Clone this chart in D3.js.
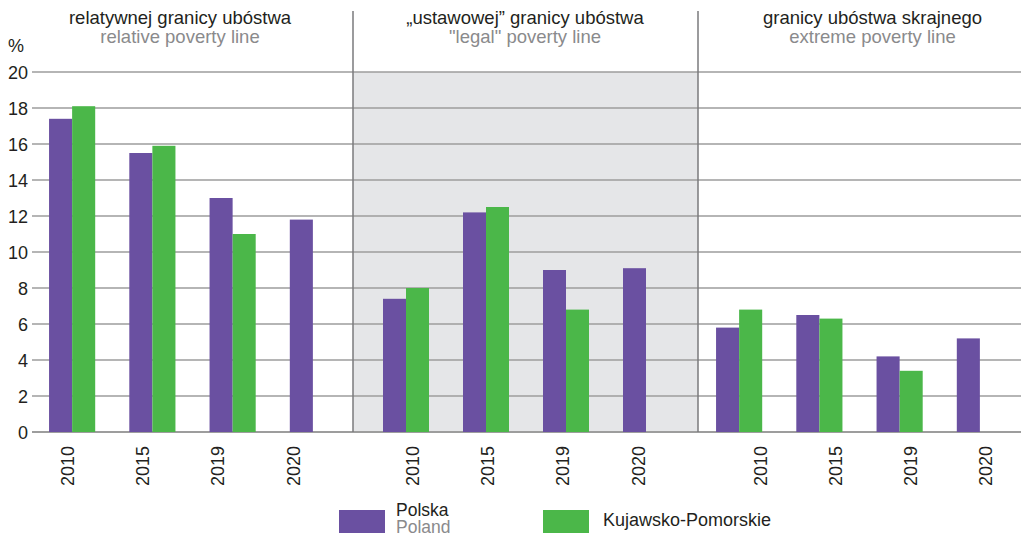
<!DOCTYPE html>
<meta charset="utf-8">
<head>
  <title>Poverty lines</title>
</head>

<style>
body {
  margin: 0;
  font-family: "Liberation Sans", Arial, Helvetica, sans-serif;
  color: #231f20;
  background: #fff;
}
</style>

<body>
  <div id="content">
    <svg width="1021" height="537"></svg>
  </div>

  <script src="https://cdnjs.cloudflare.com/ajax/libs/d3/7.8.5/d3.min.js"></script>

  <script>
// DATA
var years = ['2010', '2015', '2019', '2020'];
var panelTitlesPl = ['relatywnej granicy ubóstwa', '\u201eustawowej\u201d granicy ubóstwa', 'granicy ubóstwa skrajnego'];
var panelTitlesEn = ['relative poverty line', '"legal" poverty line', 'extreme poverty line'];
var polska = [
  [17.4, 15.5, 13.0, 11.8],
  [7.4, 12.2, 9.0, 9.1],
  [5.8, 6.5, 4.2, 5.2]
];
var kujawsko = [
  [18.1, 15.9, 11.0, null],
  [8.0, 12.5, 6.8, null],
  [6.8, 6.3, 3.4, null]
];
var seriesNames = ['Polska', 'Kujawsko-Pomorskie'];
var seriesNamesEn = ['Poland', null];
var yTicks = [0, 2, 4, 6, 8, 10, 12, 14, 16, 18, 20];

var colors = ['#6a50a1', '#4bb749'];

var svg = d3.select('svg');

var y = d3.scaleLinear().domain([0, 20]).range([432, 72]);

var plotLeft = 32, plotRight = 1021;
var panelEdges = [32, 353, 698, 1021];
var barRanges = [[32, 353], [366, 686], [699, 1020]];
var labelRanges = [[67, 293], [412, 638], [760, 985]];

// middle panel shading
svg.append('rect')
  .attr('x', panelEdges[1])
  .attr('y', y(20))
  .attr('width', panelEdges[2] - panelEdges[1])
  .attr('height', y(0) - y(20))
  .attr('fill', '#e5e6e8');

// gridlines
svg.selectAll('.grid')
  .data(yTicks)
  .enter().append('line')
  .attr('x1', plotLeft)
  .attr('x2', plotRight)
  .attr('y1', function(d) { return y(d); })
  .attr('y2', function(d) { return y(d); })
  .attr('stroke', '#9d9d9d')
  .attr('stroke-width', function(d) { return d === 0 ? 2 : 1.5; });

// y tick labels
svg.selectAll('.ylab')
  .data(yTicks)
  .enter().append('text')
  .attr('x', 28)
  .attr('y', function(d) { return y(d) + 6.5; })
  .attr('text-anchor', 'end')
  .attr('font-size', 18)
  .attr('fill', '#231f20')
  .text(function(d) { return d; });

svg.append('text')
  .attr('x', 16)
  .attr('y', 52)
  .attr('text-anchor', 'middle')
  .attr('font-size', 18)
  .attr('fill', '#231f20')
  .text('%');

// panels
for (var p = 0; p < 3; p++) {
  var x0 = d3.scaleBand()
    .domain(years)
    .range(barRanges[p])
    .paddingInner(0.425)
    .paddingOuter(0.2125);
  var x1 = d3.scaleBand()
    .domain([0, 1])
    .range([0, x0.bandwidth()]);
  var xl = d3.scalePoint()
    .domain(years)
    .range(labelRanges[p]);

  var g = svg.append('g');
  [polska[p], kujawsko[p]].forEach(function(vals, s) {
    g.selectAll('.bar' + s)
      .data(vals.map(function(v, i) { return { year: years[i], v: v }; })
        .filter(function(d) { return d.v !== null; }))
      .enter().append('rect')
      .attr('x', function(d) { return x0(d.year) + x1(s); })
      .attr('y', function(d) { return y(d.v); })
      .attr('width', x1.bandwidth())
      .attr('height', function(d) { return y(0) - y(d.v); })
      .attr('fill', colors[s]);
  });

  g.selectAll('.xlab')
    .data(years)
    .enter().append('text')
    .attr('transform', function(d) { return 'translate(' + (xl(d) + 6.5) + ',446) rotate(-90)'; })
    .attr('text-anchor', 'end')
    .attr('font-size', 18)
    .attr('fill', '#231f20')
    .text(function(d) { return d; });

  var cx = (labelRanges[p][0] + labelRanges[p][1]) / 2;
  svg.append('text')
    .attr('x', cx)
    .attr('y', 24)
    .attr('text-anchor', 'middle')
    .attr('font-size', 18.5)
    .attr('fill', '#231f20')
    .text(panelTitlesPl[p]);
  svg.append('text')
    .attr('x', cx)
    .attr('y', 43)
    .attr('text-anchor', 'middle')
    .attr('font-size', 18.5)
    .attr('fill', '#8a8a8c')
    .text(panelTitlesEn[p]);
}

// separators
svg.selectAll('.sep')
  .data([panelEdges[1], panelEdges[2]])
  .enter().append('line')
  .attr('x1', function(d) { return d; })
  .attr('x2', function(d) { return d; })
  .attr('y1', 11)
  .attr('y2', y(0))
  .attr('stroke', '#7a7a7c')
  .attr('stroke-width', 1.5);

// legend
var legendX = [339, 543];
seriesNames.forEach(function(name, i) {
  svg.append('rect')
    .attr('x', legendX[i])
    .attr('y', 510)
    .attr('width', 46)
    .attr('height', 23)
    .attr('fill', colors[i]);
  if (seriesNamesEn[i]) {
    svg.append('text')
      .attr('x', legendX[i] + 57)
      .attr('y', 516)
      .attr('font-size', 17.5)
      .attr('fill', '#231f20')
      .text(name);
    svg.append('text')
      .attr('x', legendX[i] + 57)
      .attr('y', 533)
      .attr('font-size', 17.5)
      .attr('fill', '#8a8a8c')
      .text(seriesNamesEn[i]);
  } else {
    svg.append('text')
      .attr('x', legendX[i] + 60)
      .attr('y', 526)
      .attr('font-size', 18)
      .attr('fill', '#231f20')
      .text(name);
  }
});
  </script>
</body>
</html>
